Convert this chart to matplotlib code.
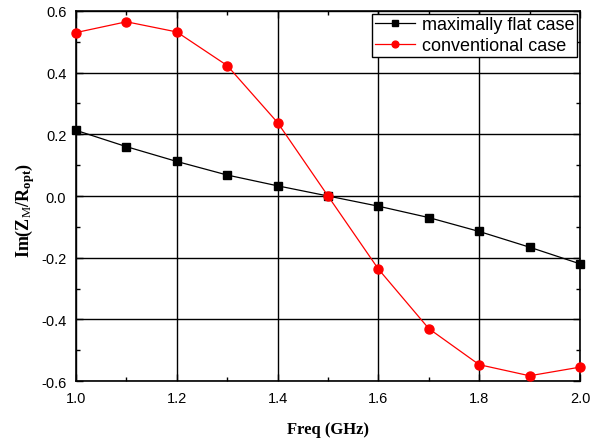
import numpy as np
import matplotlib
matplotlib.use("Agg")
from matplotlib import pyplot as plt
from matplotlib.ticker import MultipleLocator, FormatStrFormatter

# frequency sweep (GHz)
freq = [1.0, 1.1, 1.2, 1.3, 1.4, 1.5, 1.6, 1.7, 1.8, 1.9, 2.0]
# normalised imaginary part of Z_M
im_flat = [0.213, 0.160, 0.112, 0.068, 0.033, 0.0, -0.033, -0.070, -0.115, -0.166, -0.220]
im_conv = [0.530, 0.565, 0.532, 0.423, 0.238, 0.0, -0.237, -0.430, -0.547, -0.583, -0.555]

plt.rcParams['font.family'] = ['Liberation Sans', 'DejaVu Sans']
plt.rcParams['mathtext.fontset'] = 'custom'
plt.rcParams['mathtext.rm'] = 'Liberation Serif'
plt.rcParams['mathtext.bf'] = 'Liberation Serif:bold'
plt.rcParams['mathtext.it'] = 'Liberation Serif:italic'

fig = plt.figure(figsize=(5.92, 4.39), dpi=100)
ax = fig.add_axes([0.1284, 0.1298, 0.8513, 0.8429])

ax.plot(freq, im_flat, color='black', lw=0.9, marker='s', ms=6,
        label='maximally flat case', clip_on=False, zorder=3)
ax.plot(freq, im_conv, color='red', lw=0.9, marker='o', ms=6.5,
        label='conventional case', clip_on=False, zorder=3)

ax.set_xlim(1.0, 2.0)
ax.set_ylim(-0.6, 0.6)
ax.xaxis.set_major_locator(MultipleLocator(0.2))
ax.xaxis.set_minor_locator(MultipleLocator(0.1))
ax.yaxis.set_major_locator(MultipleLocator(0.2))
ax.yaxis.set_minor_locator(MultipleLocator(0.1))
ax.xaxis.set_major_formatter(FormatStrFormatter('%.1f'))
ax.yaxis.set_major_formatter(FormatStrFormatter('%.1f'))
ax.tick_params(which='both', direction='in', top=True, right=True,
               labelsize=10.5, width=1)
ax.tick_params(which='major', length=5, pad=7)
ax.tick_params(which='minor', length=3)
ax.grid(True, which='major', color='black', lw=1)
for s in ax.spines.values():
    s.set_linewidth(1.2)

ax.set_xlabel('Freq (GHz)', family='Liberation Serif', fontweight='bold',
              fontsize=12, labelpad=12)
ax.set_ylabel(r'$\mathbf{Im(Z}_{\mathrm{M}}\mathbf{/R}_{\mathbf{opt}}\mathbf{)}$',
              fontsize=13)
ax.yaxis.set_label_coords(-0.078, 0.465)

leg = ax.legend(loc='upper right', fontsize=13, frameon=True, fancybox=False,
                edgecolor='black', borderaxespad=0.15, handlelength=2.2,
                borderpad=0.15, labelspacing=0.2, handletextpad=0.4,
                markerscale=0.75)
leg.get_frame().set_linewidth(1)
leg.get_frame().set_alpha(1)

fig.savefig('out.png', dpi=100)
